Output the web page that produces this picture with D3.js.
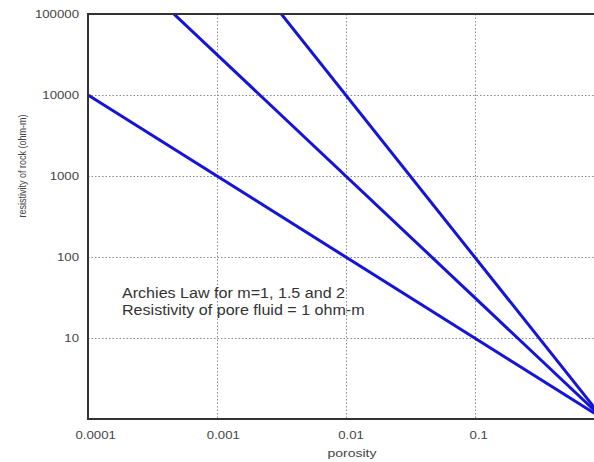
<!DOCTYPE html>
<html>
<head>
<meta charset="utf-8">
<script src="https://cdn.jsdelivr.net/npm/d3@7"></script>
<style>
  html, body { margin: 0; padding: 0; background: #fff; }
  svg { display: block; }
  text { font-family: "Liberation Sans", Arial, sans-serif; }
</style>
</head>
<body>
<script>
// Archie's law: rock resistivity = fluid resistivity * porosity^(-m)
const cementationExponents = [1, 1.5, 2];
const fluidResistivity = 1;
const porosityRange = [0.0001, 1];
const resistivityRange = [1, 100000];
const xTickValues = [0.0001, 0.001, 0.01, 0.1];
const xTickLabels = ["0.0001", "0.001", "0.01", "0.1"];
const yTickValues = [10, 100, 1000, 10000, 100000];
const yTickLabels = ["10", "100", "1000", "10000", "100000"];
const xGridValues = [0.001, 0.01, 0.1];
const yGridValues = [10, 100, 1000, 10000];
const noteLines = ["Archies Law for m=1, 1.5 and 2", "Resistivity of pore fluid = 1 ohm-m"];

const W = 594, H = 462;
const margin = { left: 88, top: 14, bottom: 43 };
const plotRight = 603.5; // the porosity = 1 edge falls just past the page edge

// the lettering is set wide: widen horizontal text by a fixed factor
function widen(sel, factor) {
  sel.each(function () {
    const len = this.getComputedTextLength();
    d3.select(this).attr("textLength", len * factor).attr("lengthAdjust", "spacingAndGlyphs");
  });
}

const svg = d3.select("body").append("svg")
  .attr("width", W).attr("height", H);

const x = d3.scaleLog().domain(porosityRange).range([margin.left, plotRight]);
const y = d3.scaleLog().domain(resistivityRange).range([H - margin.bottom, margin.top]);

svg.append("clipPath").attr("id", "plot-clip")
  .append("rect")
  .attr("x", margin.left).attr("y", margin.top)
  .attr("width", plotRight - margin.left)
  .attr("height", y(1) - margin.top);

// dotted grid
const grid = svg.append("g").attr("stroke", "#8a8a8a").attr("stroke-width", 1)
  .attr("stroke-dasharray", "1.5,2");
grid.selectAll("line.v").data(xGridValues).join("line")
  .attr("class", "v")
  .attr("x1", d => Math.round(x(d)) + 0.5).attr("x2", d => Math.round(x(d)) + 0.5)
  .attr("y1", y(resistivityRange[1])).attr("y2", y(resistivityRange[0]));
grid.selectAll("line.h").data(yGridValues).join("line")
  .attr("class", "h")
  .attr("y1", d => Math.round(y(d)) + 0.5).attr("y2", d => Math.round(y(d)) + 0.5)
  .attr("x1", x(porosityRange[0])).attr("x2", x(porosityRange[1]));

// Archie curves
const curves = svg.append("g").attr("clip-path", "url(#plot-clip)");
const line = d3.line().x(d => x(d[0])).y(d => y(d[1]));
curves.selectAll("path").data(cementationExponents).join("path")
  .attr("d", m => line(porosityRange.map(p => [p, fluidResistivity * Math.pow(p, -m)])))
  .attr("fill", "none")
  .attr("stroke", "#1414d8")
  .attr("stroke-width", 3);

// axes frame
svg.append("path")
  .attr("stroke", "#333").attr("stroke-width", 2).attr("fill", "none")
  .attr("d", `M${plotRight},${y(resistivityRange[1])}H${x(porosityRange[0])}V${y(resistivityRange[0])}H${plotRight}`);

// tick labels
const xAxis = d3.axisBottom(x).tickValues(xTickValues)
  .tickFormat((d, i) => xTickLabels[i]).tickSize(0).tickPadding(12);
const gx = svg.append("g").attr("transform", `translate(0,${y(1)})`).call(xAxis);
gx.select(".domain").remove();
gx.selectAll("text").attr("font-size", 11).attr("fill", "#444")
  .attr("font-family", "Liberation Sans, Arial, sans-serif")
  .attr("dx", (d, i) => xTickLabels[i].length * 1.2)
  .call(widen, 1.2);

const yAxis = d3.axisLeft(y).tickValues(yTickValues)
  .tickFormat((d, i) => yTickLabels[i]).tickSize(0).tickPadding(9);
const gy = svg.append("g").attr("transform", `translate(${margin.left},0)`).call(yAxis);
gy.select(".domain").remove();
gy.selectAll("text").attr("font-size", 11).attr("fill", "#444")
  .attr("font-family", "Liberation Sans, Arial, sans-serif")
  .call(widen, 1.2);

// axis titles
svg.append("text")
  .attr("x", 352).attr("y", 456.5)
  .attr("text-anchor", "middle").attr("font-size", 10).attr("fill", "#444")
  .text("porosity")
  .call(widen, 1.4);
svg.append("text")
  .attr("transform", "translate(26,166) rotate(-90) scale(1,1.2)")
  .attr("text-anchor", "middle").attr("font-size", 9).attr("fill", "#444")
  .text("resistivity of rock (ohm-m)");

// annotation
const note = svg.append("g").selectAll("text").data(noteLines).join("text")
  .attr("x", 122).attr("y", (d, i) => 298 + i * 17)
  .attr("font-size", 14).attr("fill", "#333")
  .text(d => d);
const firstLen = note.node().getComputedTextLength();
note.call(widen, 223 / firstLen);
</script>
</body>
</html>
